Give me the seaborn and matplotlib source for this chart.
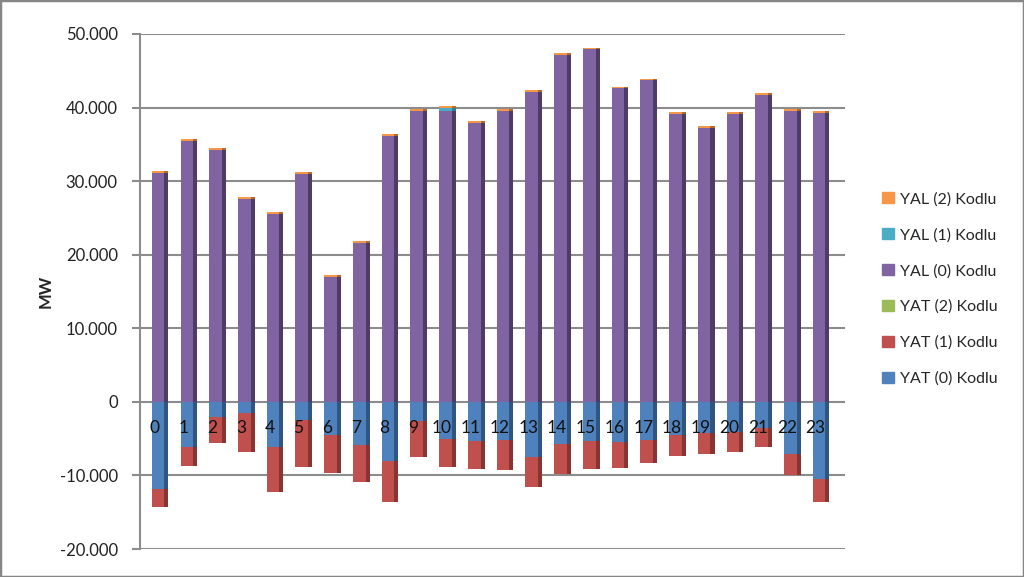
import matplotlib
matplotlib.use("Agg")
import matplotlib.pyplot as plt
import matplotlib.patches as mpatches
from matplotlib.ticker import FuncFormatter, MultipleLocator
import seaborn as sns
import numpy as np
import pandas as pd

hours = list(range(24))
yal0 = [31100, 35500, 34200, 27600, 25500, 31000, 17000, 21600, 36100, 39600, 39600, 37900,
        39600, 42100, 47100, 47900, 42600, 43700, 39100, 37200, 39100, 41700, 39600, 39300]
yal1 = [0, 0, 0, 0, 0, 0, 0, 0, 0, 0, 400, 0, 0, 0, 0, 0, 0, 0, 0, 0, 0, 0, 0, 0]
yal2 = [250] * 24
yat0 = [-11800, -6100, -2000, -1500, -6100, -2400, -4500, -5800, -8100, -2600, -5000, -5300,
        -5200, -7500, -5700, -5300, -5400, -5200, -4500, -4200, -4100, -3500, -7100, -10500]
yat1 = [-2450, -2600, -3650, -5300, -6100, -6400, -5150, -5150, -5450, -4900, -3800, -3800,
        -4050, -4050, -4050, -3800, -3650, -3100, -2850, -2850, -2700, -2700, -2850, -3100]
yat2 = [0] * 24

labels = ["YAL (2) Kodlu", "YAL (1) Kodlu", "YAL (0) Kodlu",
          "YAT (2) Kodlu", "YAT (1) Kodlu", "YAT (0) Kodlu"]
colors = ["#F79646", "#4BACC6", "#8064A2", "#9BBB59", "#C0504D", "#4F81BD"]
side_colors = ["#B86A2C", "#2F7F95", "#4E3B66", "#6C8A3A", "#8A3432", "#2F5683"]

sns.set_theme(style="white")
plt.rcParams["font.family"] = ["Lato", "DejaVu Sans"]

fig = plt.figure(figsize=(10.24, 5.77), dpi=100)
ax = fig.add_axes([140/1024, 1-549/577, 705/1024, 515/577])

FRONT_W = 0.44
SIDE_W = 0.14
df = pd.DataFrame({"hour": hours,
                   "p2": np.array(yal0) + np.array(yal1) + np.array(yal2),
                   "p1": np.array(yal0) + np.array(yal1),
                   "p0": np.array(yal0),
                   "n1": np.array(yat0) + np.array(yat1) + np.array(yat2),
                   "n0": np.array(yat0)})
df["side"] = df["hour"] + FRONT_W / 2 + SIDE_W / 2

layers = [("p2", 0), ("p1", 1), ("p0", 2), ("n1", 4), ("n0", 5)]
# shaded side faces (pseudo 3D)
for col, i in layers:
    sns.barplot(data=df, x="side", y=col, color=side_colors[i], native_scale=True,
                width=SIDE_W, saturation=1, ax=ax, linewidth=0, zorder=2)
# front faces, stacked layers drawn as cumulative overlays
for col, i in layers:
    sns.barplot(data=df, x="hour", y=col, color=colors[i], native_scale=True,
                width=FRONT_W, saturation=1, ax=ax, linewidth=0, zorder=3)

ax.set_xlim(-0.63, 23.9)
ax.set_ylim(-20000, 50000)
ax.yaxis.set_major_locator(MultipleLocator(10000))
ax.yaxis.set_major_formatter(FuncFormatter(lambda v, p: f"{int(v):,}".replace(",", ".")))
ax.grid(axis="y", color="#8C8C8C", lw=1.5, zorder=0)
ax.grid(axis="x", visible=False)
for s in ["top", "right", "bottom"]:
    ax.spines[s].set_visible(False)
ax.spines["left"].set_color("#8C8C8C")
ax.spines["left"].set_linewidth(1.5)
ax.tick_params(axis="y", left=True, length=6, color="#8C8C8C", width=1.5,
               labelsize=12, labelcolor="#222222", pad=10)
ax.set_xticks([])
ax.set_xlabel("")
ax.set_ylabel("MW", fontsize=12, fontweight="bold", labelpad=4)

# hour category labels drawn just below the zero line, in front of the bars
for h in hours:
    ax.text(h - 0.12, -3500, str(h), ha="center", va="center", fontsize=12.5,
            color="#111111", zorder=6)

handles = [mpatches.Patch(color=c, label=l) for c, l in zip(colors, labels)]
fig.legend(handles=handles, loc="center left", bbox_to_anchor=(868/1024, 1-289/577),
           frameon=False, fontsize=11.5, handlelength=0.7, handleheight=0.7,
           labelspacing=1.35, handletextpad=0.4)

fig.patches.append(mpatches.Rectangle((0, 0), 1, 1, transform=fig.transFigure,
                                      fill=False, edgecolor="#868686", lw=2.5))
fig.savefig("out.png", dpi=100)
